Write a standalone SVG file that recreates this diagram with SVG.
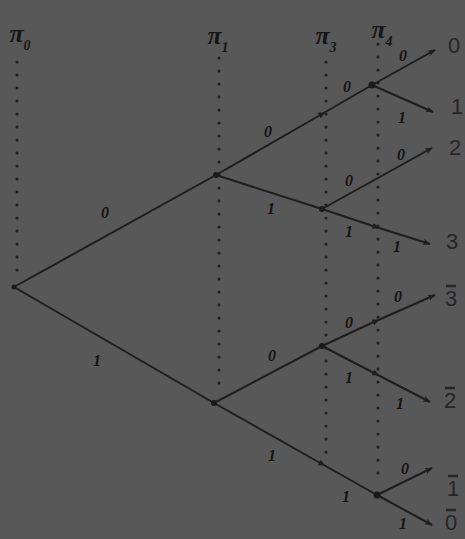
<svg xmlns="http://www.w3.org/2000/svg" width="465" height="539" viewBox="0 0 465 539">
<defs>
<style>
.bg{fill:#585858}
.dot{stroke:#1e1e1e;stroke-width:3;stroke-linecap:round;stroke-dasharray:0 13;fill:none}
.edge{stroke:#1e1e1e;stroke-width:2;fill:none}
.lbl{font-family:"Liberation Serif",serif;font-style:italic;font-weight:bold;font-size:16px;fill:#141414;text-anchor:middle}
.leaf{font-family:"Liberation Sans",sans-serif;font-size:22px;fill:#262626;text-anchor:middle}
.bar{stroke:#262626;stroke-width:2.5}
.hdr{font-family:"Liberation Serif",serif;font-style:italic;font-weight:bold;font-size:26px;fill:#161616;text-anchor:middle}
.sub{font-size:14px}
.node{fill:#1a1a1a}
</style>
<marker id="ah" viewBox="0 0 10 10" refX="9" refY="5" markerWidth="8" markerHeight="8" orient="auto" markerUnits="userSpaceOnUse">
<path d="M0,1 L10,5 L0,9 L3,5 Z" fill="#1e1e1e"/>
</marker>
<marker id="mid" viewBox="0 0 10 10" refX="5" refY="5" markerWidth="8" markerHeight="8" orient="auto" markerUnits="userSpaceOnUse">
<path d="M1,1 L9,5 L1,9 Z" fill="#1e1e1e"/>
</marker>
</defs>
<rect class="bg" x="0" y="0" width="465" height="539"/>

<g id="headers">
<text class="hdr" x="20" y="42">π<tspan class="sub" dy="8">0</tspan></text>
<text class="hdr" x="218" y="44">π<tspan class="sub" dy="8">1</tspan></text>
<text class="hdr" x="326" y="44">π<tspan class="sub" dy="8">3</tspan></text>
<text class="hdr" x="382" y="38">π<tspan class="sub" dy="8">4</tspan></text>
</g>

<g id="timelines">
<line class="dot" x1="17" y1="62" x2="17" y2="272"/>
<line class="dot" x1="219" y1="58" x2="219" y2="396"/>
<line class="dot" x1="326" y1="62" x2="326" y2="458"/>
<line class="dot" x1="378" y1="44" x2="378" y2="486"/>
</g>

<g id="connectors">
<line class="edge" x1="14" y1="287" x2="216" y2="175"/>
<line class="edge" x1="14" y1="287" x2="214" y2="403"/>
<polyline class="edge" points="216,175 322,114 372,85" marker-mid="url(#mid)"/>
<line class="edge" x1="372" y1="85" x2="435" y2="50" marker-end="url(#ah)"/>
<line class="edge" x1="372" y1="85" x2="433" y2="112" marker-end="url(#ah)"/>
<line class="edge" x1="216" y1="175" x2="322" y2="209"/>
<line class="edge" x1="322" y1="209" x2="432" y2="148" marker-end="url(#ah)"/>
<polyline class="edge" points="322,209 376,227 430,244" marker-mid="url(#mid)" marker-end="url(#ah)"/>
<line class="edge" x1="214" y1="403" x2="322" y2="346"/>
<polyline class="edge" points="322,346 376,321 435,295" marker-mid="url(#mid)" marker-end="url(#ah)"/>
<polyline class="edge" points="322,346 376,374 430,402" marker-mid="url(#mid)" marker-end="url(#ah)"/>
<polyline class="edge" points="214,403 322,464 377,495" marker-mid="url(#mid)"/>
<line class="edge" x1="377" y1="495" x2="432" y2="468" marker-end="url(#ah)"/>
<line class="edge" x1="377" y1="495" x2="432" y2="525" marker-end="url(#ah)"/>
</g>

<g id="nodes">
<circle id="root" class="node" cx="14" cy="287" r="2.5"/>
<circle id="n-a" class="node" cx="216" cy="175" r="3"/>
<circle id="n-b" class="node" cx="214" cy="403" r="3"/>
<circle id="n-c" class="node" cx="372" cy="85" r="3.5"/>
<circle id="n-d" class="node" cx="322" cy="209" r="3"/>
<circle id="n-e" class="node" cx="322" cy="346" r="3"/>
<circle id="n-f" class="node" cx="377" cy="495" r="3.5"/>
</g>

<g id="edge-labels">
<text class="lbl" x="105" y="218">0</text>
<text class="lbl" x="97" y="366">1</text>
<text class="lbl" x="268" y="137">0</text>
<text class="lbl" x="347" y="92">0</text>
<text class="lbl" x="403" y="61">0</text>
<text class="lbl" x="402" y="123">1</text>
<text class="lbl" x="271" y="214">1</text>
<text class="lbl" x="349" y="186">0</text>
<text class="lbl" x="401" y="160">0</text>
<text class="lbl" x="349" y="237">1</text>
<text class="lbl" x="397" y="252">1</text>
<text class="lbl" x="349" y="328">0</text>
<text class="lbl" x="398" y="302">0</text>
<text class="lbl" x="272" y="361">0</text>
<text class="lbl" x="349" y="383">1</text>
<text class="lbl" x="400" y="409">1</text>
<text class="lbl" x="272" y="461">1</text>
<text class="lbl" x="346" y="502">1</text>
<text class="lbl" x="405" y="474">0</text>
<text class="lbl" x="403" y="529">1</text>
</g>

<g id="leaves">
<text class="leaf" x="454" y="53">0</text>
<text class="leaf" x="457" y="114">1</text>
<text class="leaf" x="455" y="155">2</text>
<text class="leaf" x="452" y="249">3</text>
<text class="leaf" x="451" y="306">3</text>
<line class="bar" x1="446" y1="286" x2="456" y2="286"/>
<text class="leaf" x="450" y="408">2</text>
<line class="bar" x1="445" y1="388" x2="455" y2="388"/>
<text class="leaf" x="453" y="496">1</text>
<line class="bar" x1="448" y1="476" x2="458" y2="476"/>
<text class="leaf" x="451" y="530">0</text>
<line class="bar" x1="446" y1="510" x2="456" y2="510"/>
</g>
</svg>
